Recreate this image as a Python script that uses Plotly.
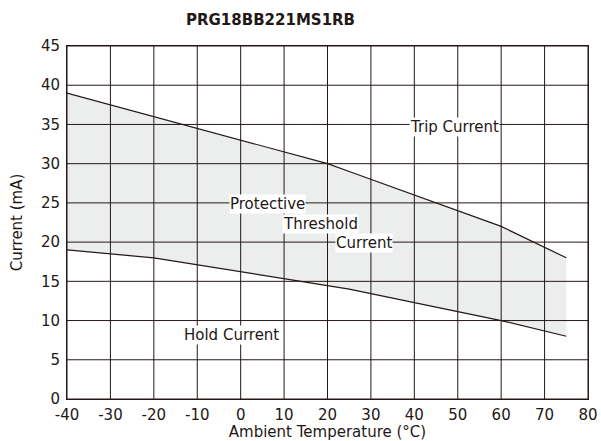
import plotly.graph_objects as go

# ---- data ----
trip_temp = [-40, -20, 20, 25, 60, 75]
trip_current = [39, 36, 30, 29, 22, 18]
hold_temp = [-40, -20, 25, 60, 75]
hold_current = [19, 18, 14, 10, 8]
x_ticks = [-40, -30, -20, -10, 0, 10, 20, 30, 40, 50, 60, 70, 80]
x_tick_labels = ["-40", "-30", "-20", "-10", "0", "10", "20", "30", "40", "50", "60", "70", "80"]
y_ticks = [0, 5, 10, 15, 20, 25, 30, 35, 40, 45]

INK = "#231815"
FONT = "DejaVu Sans"

fig = go.Figure()
fig.add_trace(go.Scatter(x=hold_temp, y=hold_current, mode="lines",
                         line=dict(color=INK, width=1.2), showlegend=False, hoverinfo="skip"))
fig.add_trace(go.Scatter(x=trip_temp, y=trip_current, mode="lines",
                         line=dict(color=INK, width=1.2), fill="tonexty",
                         fillcolor="#eceeee", showlegend=False, hoverinfo="skip"))

shapes = []
for t in x_ticks:
    shapes.append(dict(type="line", xref="x", yref="y", x0=t, x1=t, y0=y_ticks[0], y1=y_ticks[-1],
                       line=dict(color=INK, width=1), layer="above"))
for t in y_ticks:
    shapes.append(dict(type="line", xref="x", yref="y", x0=x_ticks[0], x1=x_ticks[-1], y0=t, y1=t,
                       line=dict(color=INK, width=1), layer="above"))

ann_font = dict(family=FONT, size=15, color=INK)
annotations = [
    dict(x=49.2, y=34.7, text="Trip Current"),
    dict(x=6.2, y=24.8, text="Protective"),
    dict(x=18.3, y=22.3, text="Threshold"),
    dict(x=28.4, y=19.9, text="Current"),
    dict(x=-2.2, y=8.1, text="Hold Current"),
]
for a in annotations:
    a.update(xref="x", yref="y", showarrow=False, bgcolor="white", font=ann_font,
             borderpad=0, xanchor="center", yanchor="middle")

annotations.append(dict(text="<b>PRG18BB221MS1RB</b>", xref="paper", yref="paper",
                        x=0.39, y=1.0, yshift=26, xanchor="center", yanchor="middle",
                        showarrow=False, font=dict(family=FONT, size=15, color=INK)))

fig.update_layout(
    width=601, height=441,
    margin=dict(l=67, r=13, t=46, b=42),
    paper_bgcolor="white", plot_bgcolor="white",
    font=dict(family=FONT, size=15, color=INK),
    shapes=shapes, annotations=annotations,
    xaxis=dict(range=[-40, 80], tickvals=x_ticks, ticktext=x_tick_labels, showgrid=False, zeroline=False,
               showline=True, mirror=True, linecolor=INK, linewidth=1, layer="above traces",
               ticks="", tickfont=dict(size=15), automargin=False, ticklabelstandoff=2,
               title=dict(text="Ambient Temperature (°C)", font=dict(size=15), standoff=0)),
    yaxis=dict(range=[0, 45], tickvals=y_ticks, showgrid=False, zeroline=False,
               showline=True, mirror=True, linecolor=INK, linewidth=1, layer="above traces",
               ticks="", tickfont=dict(size=15), automargin=False, ticklabelstandoff=3,
               title=dict(text="Current (mA)", font=dict(size=15), standoff=14)),
)

fig.write_html("out.html", post_script="document.body.style.margin='0px';",
               config={"displayModeBar": False})
